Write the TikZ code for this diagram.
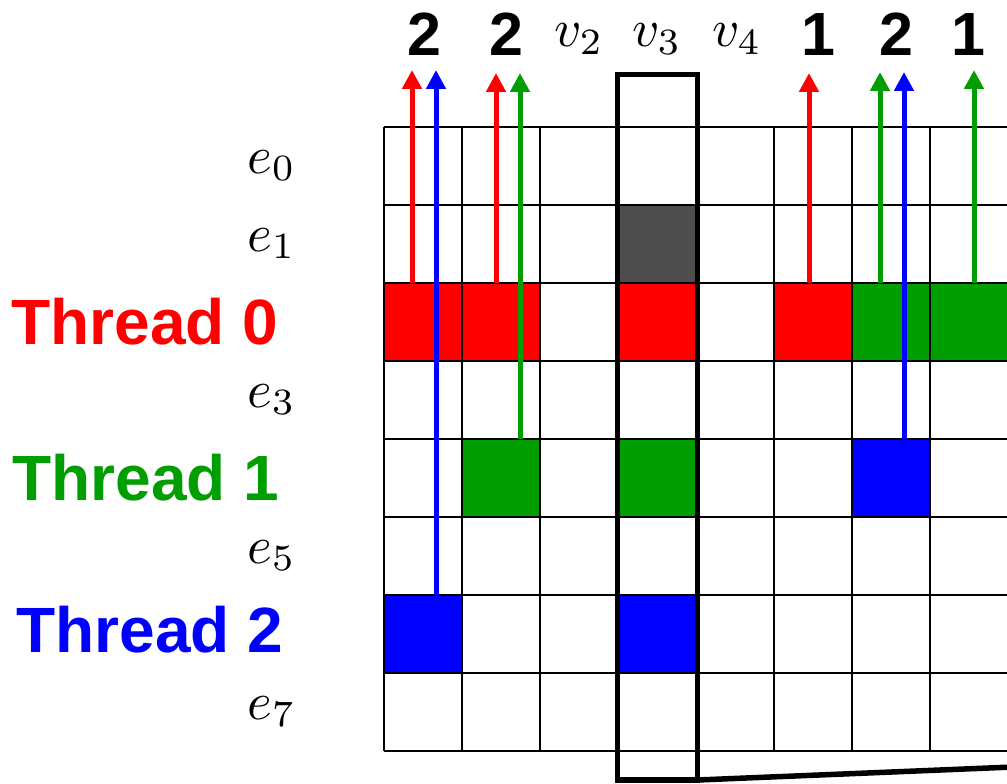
\documentclass[tikz,border=0pt]{standalone}
\usepackage{fontspec}
\newfontfamily\hv{Liberation Sans}
\usetikzlibrary{arrows.meta}
\definecolor{tred}{RGB}{255,0,0}
\definecolor{tgreen}{RGB}{0,158,0}
\definecolor{tblue}{RGB}{0,0,255}
\definecolor{dgray}{RGB}{77,77,77}
\begin{document}
\begin{tikzpicture}[x=1pt,y=-1pt,
 cellfill/.style={minimum size=78pt, inner sep=0pt, outer sep=0pt, draw=none},
 arr/.style={line width=5pt, -{Triangle[width=19pt,length=19pt]}},
 thr/.style={font=\hv\bfseries\fontsize{64}{70}\selectfont, inner sep=0pt},
 cnt/.style={font=\hv\bfseries\fontsize{61}{66}\selectfont, inner sep=0pt, anchor=base},
 lab/.style={font=\normalsize, scale=5.3, inner sep=0pt},
 gridline/.style={line width=2.2pt},
 boxline/.style={line width=5.5pt}]
\useasboundingbox (0,0) rectangle (1007,784);
\clip (0,0) rectangle (1007,784);

% coloured cells
\foreach \r/\c/\col in {1/3/dgray, 2/0/tred, 2/1/tred, 2/3/tred, 2/5/tred, 2/6/tgreen, 2/7/tgreen,
  4/1/tgreen, 4/3/tgreen, 4/6/tblue, 6/0/tblue, 6/3/tblue}
  \node[cellfill, fill=\col] (c-\r-\c) at ({384+78*\c+39},{127+78*\r+39}) {};

% grid
\foreach \i in {0,...,9} \draw[gridline] ({384+78*\i},127) -- ({384+78*\i},751);
\foreach \j in {0,...,8} \draw[gridline] (384,{127+78*\j}) -- (1100,{127+78*\j});

% arrow tips
\coordinate (ta) at (412,70);
\coordinate (tb) at (436,70);
\coordinate (tc) at (496,73);
\coordinate (td) at (520,73);
\coordinate (te) at (809,73);
\coordinate (tf) at (880,72);
\coordinate (tg) at (904,72);
\coordinate (th) at (974,70);

\draw[arr,tred]   (ta |- c-2-0.north) -- (ta);
\draw[arr,tblue]  (tb |- c-6-0.north) -- (tb);
\draw[arr,tred]   (tc |- c-2-1.north) -- (tc);
\draw[arr,tgreen] (td |- c-4-1.north) -- (td);
\draw[arr,tred]   (te |- c-2-5.north) -- (te);
\draw[arr,tgreen] (tf |- c-2-6.north) -- (tf);
\draw[arr,tblue]  (tg |- c-4-6.north) -- (tg);
\draw[arr,tgreen] (th |- c-2-7.north) -- (th);

% v3 box and slanted line
\node[boxline, draw, minimum width=80pt, minimum height=705.5pt, inner sep=0pt, outer sep=0pt] (vbox) at (657.5,427.25) {};
\coordinate (far) at (1110,763);
\draw[boxline] (vbox.south east) -- (far);

% row labels
\node[lab, anchor=base east] (e0) at (297,173) {$e_0$};
\node[lab, anchor=base east] (e1) at (297,251) {$e_1$};
\node[lab, anchor=base east] (e3) at (297,407) {$e_3$};
\node[lab, anchor=base east] (e5) at (297,563) {$e_5$};
\node[lab, anchor=base east] (e7) at (297,719) {$e_7$};

% column labels
\node[lab, anchor=base] (v2) at (579,47) {$v_2$};
\node[lab, anchor=base] (v3) at (657,47) {$v_3$};
\node[lab, anchor=base] (v4) at (737,47) {$v_4$};
\node[cnt] (n0) at (424,56) {2};
\node[cnt] (n1) at (506,56) {2};
\node[cnt] (n5) at (818,56) {1};
\node[cnt] (n6) at (896,56) {2};
\node[cnt] (n7) at (968,56) {1};

% thread labels
\node[thr, text=tred]   (th0) at (145,322) {Thread 0};
\node[thr, text=tgreen] (th1) at (146,478) {Thread 1};
\node[thr, text=tblue]  (th2) at (150,630) {Thread 2};
\end{tikzpicture}
\end{document}
